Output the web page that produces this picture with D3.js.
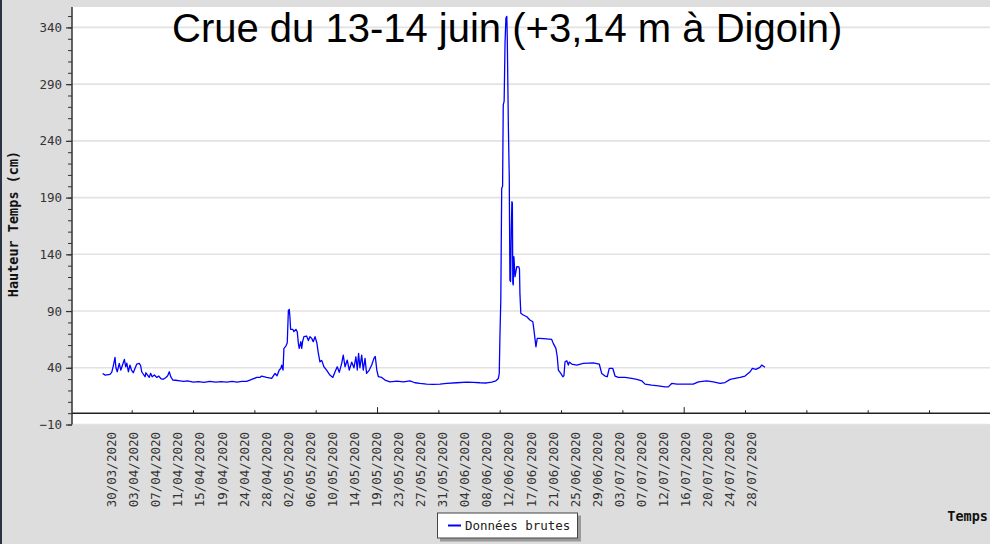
<!DOCTYPE html>
<html>
<head>
<meta charset="utf-8">
<script src="https://cdn.jsdelivr.net/npm/d3@7"></script>
<style>
  body { margin: 0; background: #dddddd; }
  svg { display: block; }
</style>
</head>
<body>
<script>
// hauteur relevée (cm)
var dates = [
  "2020-03-28 07", "2020-03-28 19", "2020-03-29 16", "2020-03-30 00", "2020-03-30 07", "2020-03-30 15",
  "2020-03-30 19", "2020-03-31 01", "2020-03-31 10", "2020-03-31 17", "2020-04-01 00", "2020-04-01 09",
  "2020-04-01 15", "2020-04-01 20", "2020-04-02 03", "2020-04-02 10", "2020-04-02 17", "2020-04-03 01",
  "2020-04-03 10", "2020-04-03 17", "2020-04-04 04", "2020-04-04 10", "2020-04-04 15", "2020-04-05 06",
  "2020-04-05 10", "2020-04-06 01", "2020-04-06 07", "2020-04-06 14", "2020-04-07 00", "2020-04-07 11",
  "2020-04-07 19", "2020-04-08 05", "2020-04-08 16", "2020-04-09 04", "2020-04-09 12", "2020-04-09 19",
  "2020-04-10 02", "2020-04-10 11", "2020-04-11 00", "2020-04-11 19", "2020-04-12 12", "2020-04-13 05",
  "2020-04-14 07", "2020-04-15 07", "2020-04-16 07", "2020-04-17 10", "2020-04-18 12", "2020-04-19 12",
  "2020-04-20 14", "2020-04-21 14", "2020-04-22 12", "2020-04-23 10", "2020-04-24 07", "2020-04-24 22",
  "2020-04-25 06", "2020-04-26 05", "2020-04-26 19", "2020-04-27 03", "2020-04-28 01", "2020-04-29 00",
  "2020-04-29 15", "2020-04-30 00", "2020-04-30 10", "2020-04-30 17", "2020-04-30 21", "2020-05-01 03",
  "2020-05-01 07", "2020-05-01 16", "2020-05-01 22", "2020-05-02 03", "2020-05-02 07", "2020-05-02 10",
  "2020-05-02 13", "2020-05-02 23", "2020-05-03 04", "2020-05-03 13", "2020-05-03 19", "2020-05-04 00",
  "2020-05-04 04", "2020-05-04 11", "2020-05-04 15", "2020-05-04 19", "2020-05-05 01", "2020-05-05 13",
  "2020-05-05 21", "2020-05-06 04", "2020-05-06 12", "2020-05-06 19", "2020-05-07 03", "2020-05-07 11",
  "2020-05-07 18", "2020-05-08 01", "2020-05-08 09", "2020-05-08 19", "2020-05-09 07", "2020-05-09 22",
  "2020-05-10 11", "2020-05-10 21", "2020-05-11 07", "2020-05-11 16", "2020-05-12 03", "2020-05-12 10",
  "2020-05-12 18", "2020-05-13 04", "2020-05-13 13", "2020-05-14 00", "2020-05-14 10", "2020-05-14 19",
  "2020-05-15 01", "2020-05-15 07", "2020-05-15 13", "2020-05-15 21", "2020-05-16 04", "2020-05-16 12",
  "2020-05-16 19", "2020-05-17 07", "2020-05-17 18", "2020-05-18 04", "2020-05-18 10", "2020-05-18 17",
  "2020-05-19 00", "2020-05-19 15", "2020-05-20 06", "2020-05-21 04", "2020-05-22 11", "2020-05-23 17",
  "2020-05-24 22", "2020-05-25 21", "2020-05-26 19", "2020-05-28 01", "2020-05-29 07", "2020-05-30 13",
  "2020-05-31 20", "2020-06-02 17", "2020-06-04 14", "2020-06-05 19", "2020-06-07 01", "2020-06-08 07",
  "2020-06-09 06", "2020-06-10 01", "2020-06-10 12", "2020-06-10 16", "2020-06-10 19", "2020-06-10 23",
  "2020-06-11 03", "2020-06-11 07", "2020-06-11 10", "2020-06-11 14", "2020-06-11 18", "2020-06-11 22",
  "2020-06-12 02", "2020-06-12 04", "2020-06-12 09", "2020-06-12 13", "2020-06-12 16", "2020-06-12 19",
  "2020-06-12 22", "2020-06-13 01", "2020-06-13 03", "2020-06-13 05", "2020-06-13 07", "2020-06-13 10",
  "2020-06-13 15", "2020-06-13 23", "2020-06-14 08", "2020-06-14 11", "2020-06-14 13", "2020-06-14 17",
  "2020-06-15 04", "2020-06-15 20", "2020-06-16 10", "2020-06-16 23", "2020-06-17 05", "2020-06-17 13",
  "2020-06-17 19", "2020-06-18 07", "2020-06-19 12", "2020-06-20 12", "2020-06-20 19", "2020-06-21 07",
  "2020-06-21 13", "2020-06-21 18", "2020-06-22 05", "2020-06-22 14", "2020-06-22 19", "2020-06-23 00",
  "2020-06-23 08", "2020-06-23 15", "2020-06-23 19", "2020-06-24 06", "2020-06-25 05", "2020-06-26 10",
  "2020-06-28 07", "2020-06-29 10", "2020-06-29 21", "2020-06-30 12", "2020-06-30 22", "2020-07-01 07",
  "2020-07-01 23", "2020-07-02 09", "2020-07-03 00", "2020-07-04 06", "2020-07-05 12", "2020-07-06 11",
  "2020-07-07 09", "2020-07-08 00", "2020-07-09 06", "2020-07-10 12", "2020-07-11 18", "2020-07-12 09",
  "2020-07-13 00", "2020-07-13 23", "2020-07-15 20", "2020-07-17 01", "2020-07-18 00", "2020-07-19 14",
  "2020-07-20 19", "2020-07-22 02", "2020-07-23 00", "2020-07-23 23", "2020-07-24 21", "2020-07-25 20",
  "2020-07-26 18", "2020-07-27 17", "2020-07-28 03", "2020-07-28 19", "2020-07-29 13", "2020-07-29 21",
  "2020-07-30 12"
];

var levels = [
  35, 33.5, 34.2, 36, 41.5, 49.2,
  40, 36.5, 43.9, 38, 42, 47.4,
  40.9, 44, 36.5, 42.4, 38, 35.6,
  40, 43.3, 43.9, 42, 36.5, 32.1,
  35.6, 31.5, 35.1, 32, 33.6, 31.5,
  32.7, 30.5, 29.8, 31.5, 33, 36.5,
  32, 29.2, 29, 28.5, 28, 28.4,
  27.4, 27.8, 27.2, 28, 27.3, 27.8,
  27.4, 28, 27.3, 28, 28, 29.2,
  29.8, 31.5, 31.5, 32.7, 31.5, 30.6,
  35, 33, 38, 39.4, 42.4, 38,
  57.1, 59.1, 62, 90.3, 91.5, 85,
  73.9, 73.9, 71.8, 73.9, 71.8, 61.5,
  57.1, 63, 57.1, 63, 67.4, 68,
  64, 67.4, 65.9, 63, 67.4, 62.1,
  52.7, 45.3, 46.5, 40.9, 38, 33.6,
  31.5, 36.5, 40.9, 36, 43.9, 51.2,
  40.9, 46.8, 38, 45, 40, 49.7,
  38, 52.7, 40, 51.2, 38, 48.3,
  35, 38, 42.4, 48.3, 50, 38,
  32.1, 31.5, 29.2, 27.6, 28.3, 27.6,
  28.5, 26.8, 26.2, 25.6, 25.4, 25.5,
  26.2, 26.8, 27.4, 27.2, 26.8, 26.6,
  27.4, 28.5, 30.6, 35, 67.4, 99.7,
  198.3, 200, 271.8, 275, 326.2, 348.3,
  349.7, 332, 252.7, 208.5, 117.4, 116,
  161.5, 186.5, 185, 114.5, 113, 137.9,
  120.3, 129.1, 129, 127, 105.6, 88,
  86.5, 85, 82.1, 80.6, 71.8, 58.5,
  65.9, 65.9, 65.5, 65, 61.5, 57.1,
  49.7, 38, 35, 32.1, 33, 45.3,
  46.2, 42.4, 45, 43.3, 42.4, 43.9,
  44.4, 43.3, 35, 32.7, 32.1, 39.4,
  39.4, 32.7, 31.5, 31.5, 30.6, 29.8,
  28.5, 25.6, 24.7, 24.1, 23.2, 23.2,
  26.2, 25.6, 25.6, 25.6, 27.6, 28.5,
  27.6, 26.2, 27, 29.8, 30.6, 31.5,
  32.7, 36.5, 39.4, 38.6, 40.4, 42.4,
  40.4
];

var xLabels = [
  "30/03/2020", "03/04/2020", "07/04/2020", "11/04/2020", "15/04/2020", "19/04/2020",
  "24/04/2020", "28/04/2020", "02/05/2020", "06/05/2020", "10/05/2020", "14/05/2020",
  "19/05/2020", "23/05/2020", "27/05/2020", "31/05/2020", "04/06/2020", "08/06/2020",
  "12/06/2020", "17/06/2020", "21/06/2020", "25/06/2020", "29/06/2020", "03/07/2020",
  "07/07/2020", "12/07/2020", "16/07/2020", "20/07/2020", "24/07/2020", "28/07/2020"
];

var yTicks = [-10, 40, 90, 140, 190, 240, 290, 340];

var title = "Crue du 13-14 juin (+3,14 m à Digoin)";
var yTitle = "Hauteur Temps (cm)";
var xTitle = "Temps";
var seriesName = "Données brutes";

var width = 990,
    height = 544,
    plotLeft = 72,
    plotRight = 990,
    plotTop = 7,
    plotBottom = 424.5;

var parse = d3.timeParse("%Y-%m-%d %H");
var labelParse = d3.timeParse("%d/%m/%Y");

var data = dates.map(function (d, i) {
  return { t: parse(d), v: levels[i] };
});

var x = d3.scaleTime()
    .domain([labelParse(xLabels[0]), labelParse(xLabels[xLabels.length - 1])])
    .range([111.7, 751.7]);

var y = d3.scaleLinear()
    .domain([-10, 358])
    .range([plotBottom, plotTop]);

var xl = d3.scalePoint()
    .domain(xLabels)
    .range(x.range());

var svg = d3.select("body").append("svg")
    .attr("width", width)
    .attr("height", height);

svg.append("rect")
    .attr("width", width).attr("height", height)
    .attr("fill", "#dddddd");

// bord gauche sombre
svg.append("rect")
    .attr("x", 0).attr("y", 0)
    .attr("width", 2).attr("height", height)
    .attr("fill", "#2b3240");

svg.append("defs").append("clipPath").attr("id", "clip")
  .append("rect")
    .attr("x", plotLeft).attr("y", plotTop)
    .attr("width", plotRight - plotLeft).attr("height", plotBottom - plotTop);

svg.append("rect")
    .attr("x", plotLeft).attr("y", plotTop)
    .attr("width", plotRight - plotLeft).attr("height", plotBottom - plotTop)
    .attr("fill", "#ffffff");

// grille horizontale
svg.append("g").selectAll("line")
    .data(yTicks)
  .enter().append("line")
    .attr("x1", plotLeft).attr("x2", plotRight)
    .attr("y1", function (d) { return y(d); })
    .attr("y2", function (d) { return y(d); })
    .attr("stroke", "#e2e2e2")
    .attr("stroke-width", 1.6);

// axe vertical : graduations mineures puis majeures
var minor = d3.range(-10, 351, 10);
svg.append("g")
    .attr("transform", "translate(" + plotLeft + ",0)")
    .call(d3.axisLeft(y).tickValues(minor).tickSize(4).tickFormat(""))
    .call(function (g) { g.select(".domain").remove(); })
    .selectAll("line").attr("stroke", "#333");

var yAxis = svg.append("g")
    .attr("transform", "translate(" + plotLeft + ",0)")
    .call(d3.axisLeft(y).tickValues(yTicks).tickSize(6).tickSizeOuter(0).tickPadding(4)
      .tickFormat(function (d) { return d < 0 ? "\u2212" + Math.abs(d) : d; }));
yAxis.select(".domain").attr("stroke", "#333").attr("stroke-width", 1.5)
    .attr("d", "M0," + plotTop + "V" + plotBottom);
yAxis.selectAll("line").attr("stroke", "#333").attr("stroke-width", 1.2);
yAxis.selectAll("text")
    .style("font-family", "'DejaVu Sans Mono', monospace")
    .style("font-size", "12.5px")
    .attr("fill", "#333");

// axe horizontal à la valeur 0
var tickDates = d3.range(15).map(function (k) {
  return d3.timeHour.offset(x.domain()[0], 90 + 276 * k);
});
var xAxis = svg.append("g")
    .attr("transform", "translate(0," + y(0) + ")")
    .call(d3.axisTop(x).tickValues(tickDates).tickSize(3).tickSizeOuter(0).tickFormat(""));
xAxis.select(".domain").attr("stroke", "#222").attr("stroke-width", 1.5)
    .attr("d", "M" + plotLeft + ",0H" + plotRight);
xAxis.selectAll(".tick line")
    .attr("stroke", "#222")
    .attr("y2", function (d, i) { return i % 5 === 4 ? -6 : -3; });

// libellés de dates
svg.append("g").selectAll("text")
    .data(xLabels)
  .enter().append("text")
    .attr("transform", function (d) {
      return "translate(" + xl(d) + "," + 432 + ") rotate(-90)";
    })
    .attr("dy", "0.36em")
    .attr("text-anchor", "end")
    .style("font-family", "'DejaVu Sans Mono', monospace")
    .style("font-size", "12.5px")
    .attr("fill", "#333")
    .text(function (d) { return d; });

// série
var line = d3.line()
    .x(function (d) { return x(d.t); })
    .y(function (d) { return y(d.v); });

svg.append("path")
    .datum(data)
    .attr("clip-path", "url(#clip)")
    .attr("d", line)
    .attr("fill", "none")
    .attr("stroke", "#0000ff")
    .attr("stroke-width", 1.3)
    .attr("stroke-linejoin", "round");

// titres d'axes
svg.append("text")
    .attr("transform", "translate(18,224) rotate(-90)")
    .attr("text-anchor", "middle")
    .style("font-family", "'DejaVu Sans Mono', monospace")
    .style("font-weight", "bold")
    .style("font-size", "13.5px")
    .attr("fill", "#111")
    .text(yTitle);

svg.append("text")
    .attr("x", 988).attr("y", 521)
    .attr("text-anchor", "end")
    .style("font-family", "'DejaVu Sans Mono', monospace")
    .style("font-weight", "bold")
    .style("font-size", "13.5px")
    .attr("fill", "#111")
    .text(xTitle);

// légende
var lg = svg.append("g").attr("transform", "translate(437,512.5)");
lg.append("rect").attr("x", 3).attr("y", 3).attr("width", 141).attr("height", 26).attr("fill", "#9a9a9a");
lg.append("rect").attr("x", 0.5).attr("y", 0.5).attr("width", 140).attr("height", 25)
    .attr("fill", "#fff").attr("stroke", "#444");
lg.append("line").attr("x1", 11).attr("x2", 24).attr("y1", 13).attr("y2", 13)
    .attr("stroke", "#0000ff").attr("stroke-width", 2);
lg.append("text").attr("x", 28).attr("y", 17.5)
    .style("font-family", "'DejaVu Sans Mono', monospace")
    .style("font-size", "12.5px")
    .attr("fill", "#222")
    .text(seriesName);

// titre
svg.append("text")
    .attr("x", 172).attr("y", 42)
    .style("font-family", "'Liberation Sans', Arial, sans-serif")
    .style("font-size", "40px")
    .attr("fill", "#000")
    .text(title);
</script>
</body>
</html>
